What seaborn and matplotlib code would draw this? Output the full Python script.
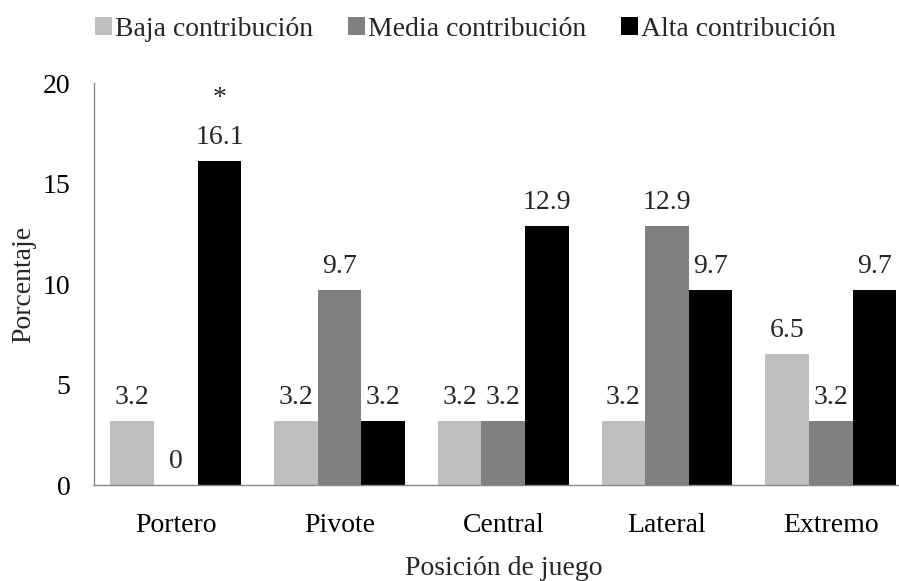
import pandas as pd
import matplotlib.pyplot as plt
import seaborn as sns

posiciones = ["Portero", "Pivote", "Central", "Lateral", "Extremo"]
niveles = ["Baja contribución", "Media contribución", "Alta contribución"]
baja = [3.2, 3.2, 3.2, 3.2, 6.5]
media = [0, 9.7, 3.2, 12.9, 3.2]
alta = [16.1, 3.2, 12.9, 9.7, 9.7]
colores = ["#bfbfbf", "#808080", "#000000"]

df = pd.DataFrame({
    "posicion": posiciones * 3,
    "nivel": [n for n in niveles for _ in posiciones],
    "porcentaje": baja + media + alta,
})

sns.set_theme(style="white")
plt.rcParams["font.family"] = ["Liberation Serif", "DejaVu Serif"]
plt.rcParams["font.size"] = 20

fig = plt.figure(figsize=(8.99, 5.81), dpi=100)
ax = fig.add_axes([0.1046, 0.1652, 0.9105, 0.6919])

sns.barplot(data=df, x="posicion", y="porcentaje", hue="nivel", order=posiciones,
            hue_order=niveles, palette=colores, saturation=1, errorbar=None,
            linewidth=0, ax=ax)

for cont in ax.containers:
    ax.bar_label(cont, labels=[f"{b.get_height():g}" for b in cont],
                 padding=8, fontsize=20)

# significance mark above Portero / Alta
top = ax.containers[2][0]
ax.annotate("*", xy=(top.get_x() + top.get_width() / 2, top.get_height()),
            xytext=(0, 45), textcoords="offset points", ha="center", va="center",
            fontsize=20)

ax.set_ylim(0, 20)
ax.set_xlim(-0.5, 4.5)
ax.set_yticks([0, 5, 10, 15, 20])
ax.tick_params(axis="y", length=0, pad=17, labelsize=20, colors="black")
ax.tick_params(axis="x", length=0, pad=20, labelsize=20, colors="black")
ax.set_xlabel("Posición de juego", fontsize=20, labelpad=13)
ax.set_ylabel("Porcentaje", fontsize=20, labelpad=5)
for s in ["top", "right"]:
    ax.spines[s].set_visible(False)
for s in ["left", "bottom"]:
    ax.spines[s].set_color("#898989")
    ax.spines[s].set_linewidth(1.0)

handles, labels = ax.get_legend_handles_labels()
ax.get_legend().remove()
fig.legend(handles, labels, loc="center left", bbox_to_anchor=(95 / 899, 1 - 29 / 581),
           ncol=3, frameon=False, fontsize=20, handlelength=0.62, handleheight=0.62,
           handletextpad=0.1, columnspacing=1.25, borderpad=0, borderaxespad=0)

fig.savefig("out.png", dpi=100)
